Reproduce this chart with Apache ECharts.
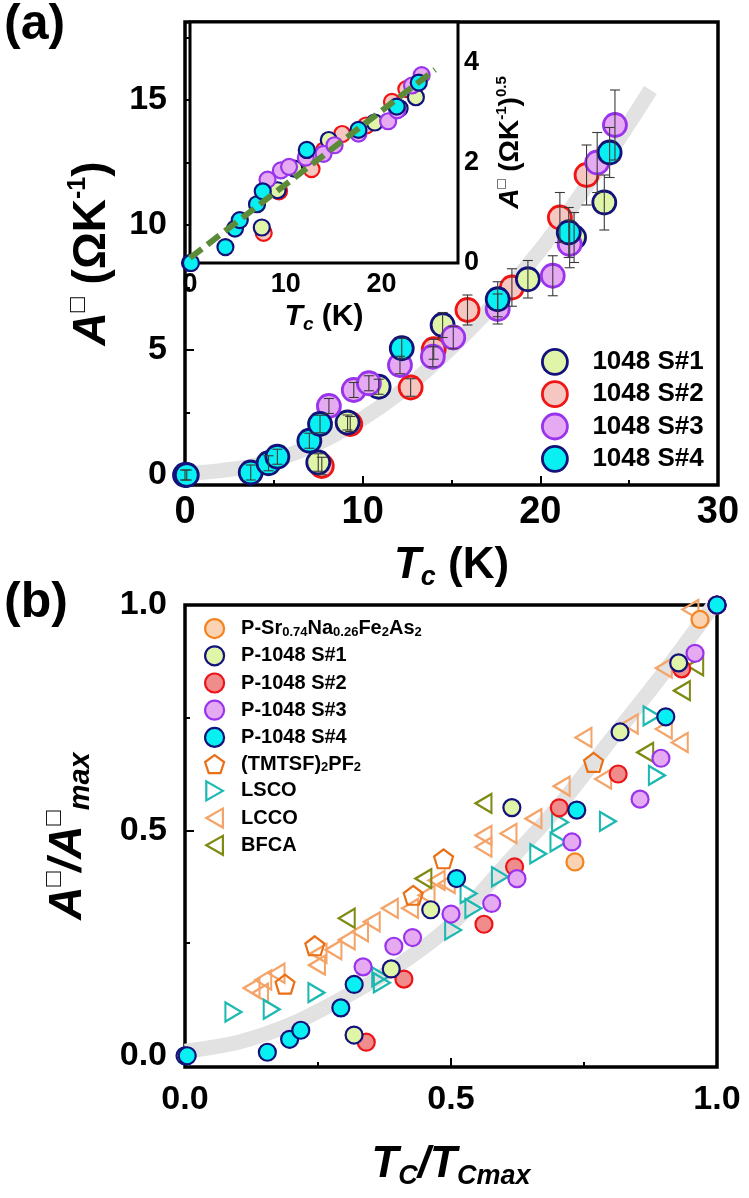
<!DOCTYPE html>
<html><head><meta charset="utf-8">
<script src="https://cdn.jsdelivr.net/npm/echarts@6/dist/echarts.min.js"></script>
<style>html,body{margin:0;padding:0;background:#fff}#c{width:749px;height:1198px}</style>
</head><body><div id="c"></div>
<script>
const FONT = '"Liberation Sans", Arial, "DejaVu Sans", sans-serif';

// ---------- Panel (a): Tc (K), A (Ohm/K), error half-height ----------
const s1Tc  = [0.0, 7.5, 9.15, 10.9, 14.5, 19.3, 21.9, 23.6];
const s1A   = [0.0, 0.5, 2.1, 3.53, 6.0, 7.83, 9.5, 10.9];
const s1Err = [0.2, 0.35, 0.3, 0.3, 0.5, 0.75, 1.0, 1.1];

const s2Tc  = [7.7, 9.3, 12.7, 14.0, 15.9, 18.4, 21.1, 22.6];
const s2A   = [0.36, 2.04, 3.5, 5.03, 6.6, 7.5, 10.3, 12.0];
const s2Err = [0.35, 0.3, 0.35, 0.4, 0.6, 0.75, 1.0, 1.2];

const s3Tc  = [8.1, 9.5, 10.35, 12.1, 13.95, 15.1, 17.6, 20.7, 21.65, 23.2, 24.2];
const s3A   = [2.76, 3.4, 3.67, 4.4, 4.73, 5.5, 6.64, 7.97, 9.24, 12.5, 14.0];
const s3Err = [0.3, 0.3, 0.3, 0.35, 0.4, 0.45, 0.6, 0.8, 0.95, 1.2, 1.4];

const s4Tc  = [0.1, 3.7, 4.7, 5.2, 7.0, 7.6, 12.2, 17.6, 21.6, 23.9];
const s4A   = [0.0, 0.1, 0.47, 0.73, 1.37, 2.04, 5.07, 7.03, 9.7, 12.9];
const s4Err = [0.2, 0.3, 0.3, 0.3, 0.3, 0.35, 0.4, 0.7, 1.0, 1.0];

// grey guide band in (a)
const bandATc = [0, 4, 8, 12, 16, 20, 24, 26.2];
const bandAA  = [0.05, 0.4, 1.45, 3.25, 5.8, 9.0, 13.0, 15.4];
// inset dashed fit line endpoints
const fitTc = [0, 25.6];
const fitSqrtA = [0.1, 3.85];

// ---------- Panel (b): other materials (Tc/Tcmax, A/Amax) ----------
const pSrX = [0.733, 0.968, 1.0];
const pSrY = [0.43, 0.968, 1.0];
const tmX = [0.188, 0.244, 0.429, 0.486, 0.768];
const tmY = [0.159, 0.244, 0.356, 0.437, 0.651];
const lsX = [0.091, 0.163, 0.247, 0.367, 0.37, 0.504, 0.533, 0.542, 0.592, 0.664, 0.702, 0.705, 0.795, 0.877, 0.887];
const lsY = [0.097, 0.103, 0.14, 0.175, 0.162, 0.279, 0.36, 0.327, 0.397, 0.448, 0.474, 0.518, 0.52, 0.754, 0.622];
const lcX = [0.125, 0.141, 0.147, 0.172, 0.248, 0.251, 0.279, 0.304, 0.329, 0.351, 0.385, 0.423, 0.454, 0.473, 0.492, 0.561, 0.561, 0.608, 0.655, 0.708, 0.749, 0.786, 0.836, 0.9, 0.93, 0.9, 0.95];
const lcY = [0.15, 0.139, 0.168, 0.183, 0.201, 0.227, 0.235, 0.257, 0.275, 0.297, 0.327, 0.327, 0.356, 0.389, 0.382, 0.489, 0.463, 0.493, 0.526, 0.598, 0.706, 0.614, 0.736, 0.725, 0.695, 0.86, 0.99];
const bfX = [0.304, 0.448, 0.561, 0.865, 0.934, 0.959];
const bfY = [0.305, 0.393, 0.56, 0.673, 0.81, 0.865];
const bandBX = [0, 0.1, 0.2, 0.3, 0.4, 0.5, 0.6, 0.7, 0.8, 0.9, 1.0];
const bandBY = [0.01, 0.03, 0.07, 0.13, 0.2, 0.29, 0.42, 0.55, 0.7, 0.85, 1.01];

// tick labels
const aXTicks = [0, 10, 20, 30], aXMinor = [5, 15, 25];
const aYTicks = [0, 5, 10, 15], aYMinor = [2.5, 7.5, 12.5, 17.5];
const iXTicks = [0, 10, 20], iXMinor = [5, 15, 25];
const iYTicks = [0, 2, 4], iYMinor = [1, 3];
const bTicks = [0, 0.5, 1.0], bMinor = [0.25, 0.75];

const zip = (a, b) => a.map((v, i) => [v, b[i]]);
const zip3 = (a, b, c) => a.map((v, i) => [v, b[i], c[i]]);
const sqrtPts = (T, A) => T.map((t, i) => [t, Math.sqrt(A[i])]);
function norm(T, A) {
  const tm = Math.max(...T), am = Math.max(...A);
  return T.map((t, i) => [t / tm, A[i] / am]);
}

const C = {
  s1: {fill: '#e0f5a8', edge: '#12127a'},
  s2: {fill: '#f6c6c0', edge: '#f01414'},
  s2b: {fill: '#f08c8c', edge: '#ec1418'},
  s3: {fill: '#e6aaf2', edge: '#9a34ec'},
  s4: {fill: '#08f0f2', edge: '#12127a'},
  psr: {fill: '#fbd3b2', edge: '#f5841f'},
  tm: '#ea7016', ls: '#1cb8b2', lc: '#f4a468', bf: '#7e8a12'
};

function rich(fs) {
  return {
    i: {color: '#000', fontSize: fs, fontWeight: 'bold', fontStyle: 'italic', fontFamily: FONT, lineHeight: Math.round(fs * 1.15)},
    n: {color: '#000', fontSize: fs, fontWeight: 'bold', fontFamily: FONT, lineHeight: Math.round(fs * 1.15)},
    sup: {color: '#000', fontSize: Math.round(fs * 0.55), fontWeight: 'bold', fontFamily: FONT, verticalAlign: 'top', lineHeight: Math.round(fs * 0.6)},
    sub: {color: '#000', fontSize: Math.round(fs * 0.62), fontWeight: 'bold', fontStyle: 'italic', fontFamily: FONT, verticalAlign: 'bottom', lineHeight: Math.round(fs * 0.6)}
  };
}

function errSeries(T, A, E) {
  return {
    type: 'custom', xAxisIndex: 0, yAxisIndex: 0, z: 6, silent: true,
    data: zip3(T, A, E),
    encode: {x: 0, y: 1},
    renderItem: function (params, api) {
      const x = api.value(0), y = api.value(1), e = api.value(2);
      const t = api.coord([x, y + e]), b = api.coord([x, y - e]);
      const w = 5;
      const st = {stroke: '#3a3a3a', lineWidth: 1.1};
      return {type: 'group', children: [
        {type: 'line', shape: {x1: t[0], y1: t[1], x2: b[0], y2: b[1]}, style: st},
        {type: 'line', shape: {x1: t[0] - w, y1: t[1], x2: t[0] + w, y2: t[1]}, style: st},
        {type: 'line', shape: {x1: b[0] - w, y1: b[1], x2: b[0] + w, y2: b[1]}, style: st}
      ]};
    }
  };
}

function circ(name, data, col, size, bw, xi, yi, z) {
  return {
    name: name, type: 'scatter', xAxisIndex: xi, yAxisIndex: yi, z: z || 3,
    symbol: 'circle', symbolSize: size, data: data,
    itemStyle: {color: col.fill, borderColor: col.edge, borderWidth: bw, opacity: 1}
  };
}
function hollow(name, data, symbol, size, color, z) {
  return {
    name: name, type: 'scatter', xAxisIndex: 4, yAxisIndex: 4, z: z || 3,
    symbol: symbol, symbolSize: size, data: data, symbolKeepAspect: false,
    itemStyle: {color: 'rgba(255,255,255,0)', borderColor: color, borderWidth: 2.2, opacity: 1}
  };
}

const blackLabel = (fs) => ({color: '#000', fontWeight: 'bold', fontSize: fs, fontFamily: FONT});

function mkX(grid, min, max, labels, ticks, minor, fs, margin, tlen, extra) {
  const major = Object.assign({
    type: 'value', gridIndex: grid, min: min, max: max, position: 'bottom',
    axisLine: {show: false, onZero: false},
    splitLine: {show: false},
    axisTick: {show: true, inside: true, length: tlen, customValues: ticks, lineStyle: {color: '#000', width: 2}},
    axisLabel: Object.assign({show: true, margin: margin, customValues: labels, showMinLabel: true, showMaxLabel: true}, blackLabel(fs))
  }, extra || {});
  const mn = {
    type: 'value', gridIndex: grid, min: min, max: max, position: 'bottom',
    axisLine: {show: false, onZero: false}, splitLine: {show: false}, axisLabel: {show: false},
    axisTick: {show: true, inside: true, length: Math.round(tlen * 0.6), customValues: minor, lineStyle: {color: '#000', width: 2}}
  };
  return [major, mn];
}
function mkY(grid, min, max, labels, ticks, minor, fs, margin, tlen, pos, extra) {
  const major = Object.assign({
    type: 'value', gridIndex: grid, min: min, max: max, position: pos,
    axisLine: {show: false, onZero: false},
    splitLine: {show: false},
    axisTick: {show: true, inside: true, length: tlen, customValues: ticks, lineStyle: {color: '#000', width: 2}},
    axisLabel: Object.assign({show: true, margin: margin, customValues: labels, showMinLabel: true, showMaxLabel: true}, blackLabel(fs))
  }, extra || {});
  const mn = {
    type: 'value', gridIndex: grid, min: min, max: max, position: pos,
    axisLine: {show: false, onZero: false}, splitLine: {show: false}, axisLabel: {show: false},
    axisTick: {show: true, inside: true, length: Math.round(tlen * 0.6), customValues: minor, lineStyle: {color: '#000', width: 2}}
  };
  return [major, mn];
}

const fmt1 = v => v.toFixed(1);

const xAxes = [].concat(
  mkX(0, 0, 30, aXTicks, aXTicks, aXMinor, 38, 9, 9, {
    name: '{i|T}{sub|c}{n| (K)}', nameLocation: 'middle', nameGap: 55,
    nameTextStyle: {color: '#000', rich: rich(44)}
  }),
  mkX(1, 0, 28, iXTicks, iXTicks, iXMinor, 27, 8, 7, {
    name: '{i|T}{sub|c}{n| (K)}', nameLocation: 'middle', nameGap: 36,
    nameTextStyle: {color: '#000', rich: rich(30)}
  }),
  mkX(2, 0, 1, bTicks, bTicks, bMinor, 34, 16, 9, {
    name: '{i|T}{sub|C}{i|/T}{sub|Cmax}', nameLocation: 'middle', nameGap: 72,
    nameTextStyle: {color: '#000', rich: rich(44)}
  })
);
xAxes[4].axisLabel.formatter = fmt1;

const yAxes = [].concat(
  mkY(0, -0.4, 18.12, aYTicks, aYTicks, aYMinor, 34, 18, 9, 'left', {
    name: '{i|A}{sup|□}{n| (ΩK}{sup|-1}{n|)}', nameLocation: 'middle', nameGap: 66, nameRotate: 90,
    nameTextStyle: {color: '#000', rich: rich(46)}
  }),
  mkY(1, 0, 4.8, iYTicks, iYTicks, iYMinor, 27, 6, 7, 'right', {
    name: '{i|A}{sup|□}{n| (ΩK}{sup|-1}{n|)}{sup|0.5}', nameLocation: 'middle', nameGap: 36, nameRotate: 90,
    nameTextStyle: {color: '#000', rich: rich(28)}
  }),
  mkY(2, -0.025, 1.0, bTicks, bTicks, bMinor, 34, 18, 9, 'left', {
    name: '{i|A}{sup|□}{i|/A}{sup|□}{sub|max}', nameLocation: 'middle', nameGap: 90, nameRotate: 90,
    nameTextStyle: {color: '#000', rich: rich(46)}
  })
);
yAxes[4].axisLabel.formatter = fmt1;

const pentagon = 'path://M0,-10 L9.51,-3.09 L5.88,8.09 L-5.88,8.09 L-9.51,-3.09 Z';
const triLeft  = 'path://M0,8 L14,0 L14,16 Z';
const triRight = 'path://M14,8 L0,0 L0,16 Z';

const series = [
  // ---- (a) main ----
  {type: 'line', xAxisIndex: 0, yAxisIndex: 0, data: zip(bandATc, bandAA), smooth: 0.3, showSymbol: false, silent: true, z: 1,
   lineStyle: {width: 15, color: '#e2e2e2', cap: 'butt'}},
  circ('1048 S#2', zip(s2Tc, s2A), C.s2, 23, 2.8, 0, 0),
  circ('1048 S#1', zip(s1Tc, s1A), C.s1, 23, 2.8, 0, 0),
  circ('1048 S#3', zip(s3Tc, s3A), C.s3, 23, 2.8, 0, 0),
  circ('1048 S#4', zip(s4Tc, s4A), C.s4, 23, 2.8, 0, 0),
  errSeries(s2Tc, s2A, s2Err), errSeries(s1Tc, s1A, s1Err), errSeries(s3Tc, s3A, s3Err), errSeries(s4Tc, s4A, s4Err),
  // ---- inset ----
  circ('in2', sqrtPts(s2Tc, s2A), C.s2, 16, 2.2, 2, 2, 10),
  circ('in1', sqrtPts(s1Tc, s1A), C.s1, 16, 2.2, 2, 2, 10),
  circ('in3', sqrtPts(s3Tc, s3A), C.s3, 16, 2.2, 2, 2, 10),
  circ('in4', sqrtPts(s4Tc, s4A), C.s4, 16, 2.2, 2, 2, 10),
  {type: 'line', xAxisIndex: 2, yAxisIndex: 2, data: zip(fitTc, fitSqrtA), showSymbol: false, silent: true, z: 11,
   lineStyle: {width: 6, color: '#5b8a38', type: [15, 7]}},
  // ---- (b) ----
  {type: 'line', xAxisIndex: 4, yAxisIndex: 4, data: zip(bandBX, bandBY), smooth: 0.3, showSymbol: false, silent: true, z: 1,
   lineStyle: {width: 15, color: '#e2e2e2', cap: 'butt'}},
  hollow('LCCO', zip(lcX, lcY), triLeft, [16, 19], C.lc),
  hollow('LSCO', zip(lsX, lsY), triRight, [16, 19], C.ls),
  hollow('BFCA', zip(bfX, bfY), triLeft, [16, 19], C.bf),
  hollow('(TMTSF)2PF2', zip(tmX, tmY), pentagon, 19, C.tm),
  circ('P-Sr0.74Na0.26Fe2As2', zip(pSrX, pSrY), C.psr, 17, 2.2, 4, 4, 4),
  circ('P-1048 S#2', norm(s2Tc, s2A), C.s2b, 17, 2.2, 4, 4, 4),
  circ('P-1048 S#1', norm(s1Tc, s1A), C.s1, 17, 2.2, 4, 4, 4),
  circ('P-1048 S#3', norm(s3Tc, s3A), C.s3, 17, 2.2, 4, 4, 4),
  circ('P-1048 S#4', norm(s4Tc, s4A), C.s4, 17, 2.2, 4, 4, 4)
];

const legRich = {
  t: {fontSize: 20, fontWeight: 'bold', fontFamily: FONT, lineHeight: 20, color: '#000'},
  s: {fontSize: 13, fontWeight: 'bold', fontFamily: FONT, lineHeight: 12, verticalAlign: 'bottom', color: '#000'}
};
const legFmt = {
  'P-Sr0.74Na0.26Fe2As2': '{t|P-Sr}{s|0.74}{t|Na}{s|0.26}{t|Fe}{s|2}{t|As}{s|2}',
  '(TMTSF)2PF2': '{t|(TMTSF)}{s|2}{t|PF}{s|2}'
};

const option = {
  animation: false,
  backgroundColor: '#fff',
  textStyle: {fontFamily: FONT},
  grid: [
    {left: 185, top: 22, width: 533, height: 463, show: true, borderColor: '#000', borderWidth: 3.5, backgroundColor: 'rgba(0,0,0,0)', z: 0},
    {left: 190, top: 22, width: 268, height: 241, show: true, borderColor: '#000', borderWidth: 3, backgroundColor: '#fff', z: 7},
    {left: 185, top: 605, width: 532, height: 462, show: true, borderColor: '#000', borderWidth: 3.5, backgroundColor: 'rgba(0,0,0,0)', z: 0}
  ],
  xAxis: xAxes,
  yAxis: yAxes,
  legend: [
    {
      data: ['1048 S#1', '1048 S#2', '1048 S#3', '1048 S#4'],
      orient: 'vertical', left: 536, top: 343, itemWidth: 25, itemHeight: 25, itemGap: 4.5,
      selectedMode: false,
      itemStyle: {borderWidth: 2.8},
      textStyle: {fontSize: 26, fontWeight: 'bold', color: '#000', fontFamily: FONT, lineHeight: 25, padding: [0, 0, 0, 20]}
    },
    {
      data: ['P-Sr0.74Na0.26Fe2As2', 'P-1048 S#1', 'P-1048 S#2', 'P-1048 S#3', 'P-1048 S#4', '(TMTSF)2PF2', 'LSCO', 'LCCO', 'BFCA'],
      orient: 'vertical', left: 199, top: 613, itemWidth: 19, itemHeight: 19, itemGap: 6,
      selectedMode: false,
      itemStyle: {borderWidth: 2.2},
      formatter: name => legFmt[name] || ('{t|' + name + '}'),
      textStyle: {rich: legRich, lineHeight: 20, padding: [0, 0, 0, 12]}
    }
  ],
  graphic: [
    {type: 'text', left: 4, top: 0, style: {text: '(a)', font: 'bold 50px ' + FONT, fill: '#000'}},
    {type: 'text', left: 4, top: 578, style: {text: '(b)', font: 'bold 50px ' + FONT, fill: '#000'}}
  ],
  series: series
};

const chart = echarts.init(document.getElementById('c'), null, {renderer: 'canvas'});
chart.setOption(option);
</script>
</body></html>
